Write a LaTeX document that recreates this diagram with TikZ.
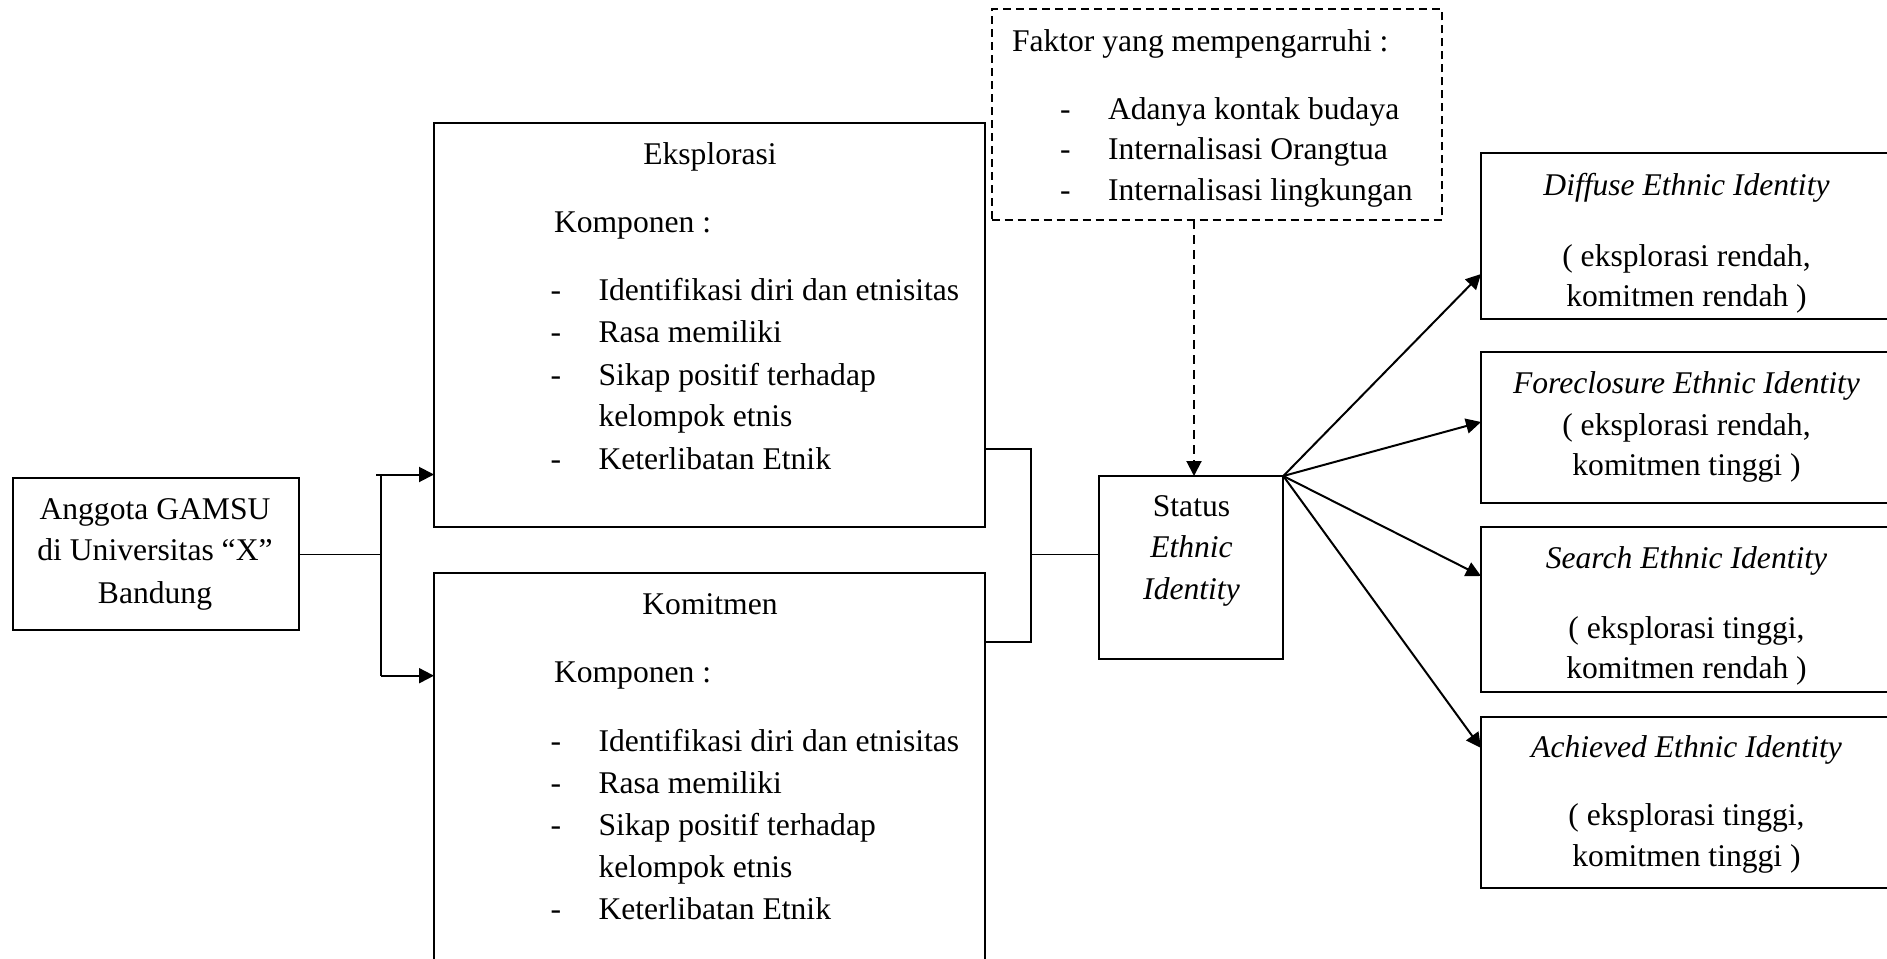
\documentclass[tikz,border=0pt]{standalone}
\usepackage{fontspec}
\setmainfont{Liberation Serif}
\usetikzlibrary{arrows.meta}
\newcommand{\fs}{\fontsize{15.8pt}{21pt}\selectfont}
\begin{document}
\begin{tikzpicture}[x=0.5pt,y=-0.5pt,
  box/.style={draw, line width=1pt, inner sep=0pt, outer sep=0pt, anchor=north west},
  txt/.style={inner sep=0pt, outer sep=0pt, font=\fs, anchor=base},
  ltxt/.style={txt, anchor=base west},
  conn/.style={line width=1pt},
  arr/.style={conn, -{Triangle[length=7.5pt,width=7.5pt]}}]
\useasboundingbox (0,0) rectangle (1887,959);

% boxes
\node[box, minimum width=142.85pt, minimum height=75.85pt] (ang) at (13.3,478.3) {};
\node[box, minimum width=275.65pt, minimum height=202.3pt] (eks) at (434,122.7) {};
\node[box, minimum width=275.65pt, minimum height=218pt] (kom) at (434,573.3) {};
\node[box, line width=0.9pt, dash pattern=on 4pt off 2.5pt, minimum width=225pt, minimum height=105.5pt] (fak) at (991.7,9.3) {};
\node[box, minimum width=92pt, minimum height=91.65pt] (sta) at (1099.3,476) {};
\node[box, minimum width=205.5pt, minimum height=82.85pt] (dif) at (1481,153.3) {};
\node[box, minimum width=205.5pt, minimum height=75.5pt] (frc) at (1481,352.3) {};
\node[box, minimum width=205.5pt, minimum height=82.2pt] (sea) at (1481,527.3) {};
\node[box, minimum width=205.5pt, minimum height=85.8pt] (ach) at (1481,716.7) {};

% Anggota
\node[txt] (a1) at (155,519) {Anggota GAMSU};
\node[txt] (a2) at (155,560.7) {di Universitas “X”};
\node[txt] (a3) at (155,603) {Bandung};

% Eksplorasi
\node[txt] (e0) at (710,164.5) {Eksplorasi};
\node[ltxt] (e1) at (554,232) {Komponen :};
\node[ltxt] (ed1) at (550.5,300.7) {-};
\node[ltxt] (ed2) at (550.5,342.7) {-};
\node[ltxt] (ed3) at (550.5,385) {-};
\node[ltxt] (ed4) at (550.5,469.3) {-};
\node[ltxt] (ei1) at (598.5,300.7) {Identifikasi diri dan etnisitas};
\node[ltxt] (ei2) at (598.5,342.7) {Rasa memiliki};
\node[ltxt] (ei3) at (598.5,385) {Sikap positif terhadap};
\node[ltxt] (ei4) at (598.5,426.7) {kelompok etnis};
\node[ltxt] (ei5) at (598.5,469.3) {Keterlibatan Etnik};

% Komitmen
\node[txt] (k0) at (710,614.5) {Komitmen};
\node[ltxt] (k1) at (554,682.5) {Komponen :};
\node[ltxt] (kd1) at (550.5,751.3) {-};
\node[ltxt] (kd2) at (550.5,793.3) {-};
\node[ltxt] (kd3) at (550.5,835.6) {-};
\node[ltxt] (kd4) at (550.5,919.9) {-};
\node[ltxt] (ki1) at (598.5,751.3) {Identifikasi diri dan etnisitas};
\node[ltxt] (ki2) at (598.5,793.3) {Rasa memiliki};
\node[ltxt] (ki3) at (598.5,835.6) {Sikap positif terhadap};
\node[ltxt] (ki4) at (598.5,877.3) {kelompok etnis};
\node[ltxt] (ki5) at (598.5,919.9) {Keterlibatan Etnik};

% Faktor
\node[ltxt] (f0) at (1012,51.5) {Faktor yang mempengarruhi :};
\node[ltxt] (fd1) at (1060,119) {-};
\node[ltxt] (fd2) at (1060,159.5) {-};
\node[ltxt] (fd3) at (1060,200) {-};
\node[ltxt] (fi1) at (1108,119) {Adanya kontak budaya};
\node[ltxt] (fi2) at (1108,159.5) {Internalisasi Orangtua};
\node[ltxt] (fi3) at (1108,200) {Internalisasi lingkungan};

% Status
\node[txt] (s1) at (1191.5,516) {Status};
\node[txt] (s2) at (1191.5,557.3) {\textit{Ethnic}};
\node[txt] (s3) at (1191.5,599.3) {\textit{Identity}};

% outcomes
\node[txt] (d1) at (1686.5,195.5) {\textit{Diffuse Ethnic Identity}};
\node[txt] (d2) at (1686.5,266.5) {( eksplorasi rendah,};
\node[txt] (d3) at (1686.5,306.5) {komitmen rendah )};
\node[txt] (o1) at (1686.5,393) {\textit{Foreclosure Ethnic Identity}};
\node[txt] (o2) at (1686.5,435) {( eksplorasi rendah,};
\node[txt] (o3) at (1686.5,475.5) {komitmen tinggi )};
\node[txt] (r1t) at (1686.5,568.5) {\textit{Search Ethnic Identity}};
\node[txt] (r2t) at (1686.5,638.3) {( eksplorasi tinggi,};
\node[txt] (r3t) at (1686.5,678.5) {komitmen rendah )};
\node[txt] (c1) at (1686.5,757) {\textit{Achieved Ethnic Identity}};
\node[txt] (c2) at (1686.5,825.5) {( eksplorasi tinggi,};
\node[txt] (c3) at (1686.5,866) {komitmen tinggi )};

% left connectors
\coordinate (j1) at (381,554.3);
\coordinate (ju) at (381,474.5);
\coordinate (jo) at (376,474.5);
\coordinate (jd) at (381,675.7);
\draw[line width=0.65pt] (ang.east |- j1) -- (j1);
\draw[conn] (ju) -- (jd);
\draw[arr] (jo) -- (ju -| eks.west);
\draw[arr] (jd) -- (jd -| kom.west);

% right connectors
\coordinate (q1) at (1031.3,448.7);
\coordinate (q2) at (1031.3,642);
\coordinate (qm) at (1031.3,554.3);
\draw[conn] (q1 -| eks.east) -- (q1) -- (q2) -- (q2 -| kom.east);
\draw[conn, line width=0.8pt] (qm) -- (qm -| sta.west);

% dashed influence arrow
\coordinate (dx) at (1194,0);
\draw[arr, dash pattern=on 4.5pt off 3pt] (fak.south -| dx) -- (sta.north -| dx);

% outcome arrows
\coordinate (t1) at (0,274);
\coordinate (t2) at (0,422);
\coordinate (t3) at (0,576);
\coordinate (t4) at (0,748);
\draw[arr] (sta.north east) -- (t1 -| dif.west);
\draw[arr] (sta.north east) -- (t2 -| frc.west);
\draw[arr] (sta.north east) -- (t3 -| sea.west);
\draw[arr] (sta.north east) -- (t4 -| ach.west);
\end{tikzpicture}
\end{document}
